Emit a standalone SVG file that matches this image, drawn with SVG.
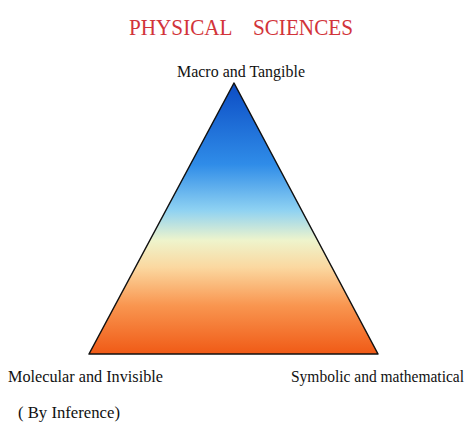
<svg xmlns="http://www.w3.org/2000/svg" width="470" height="425" viewBox="0 0 470 425">
<style>
.t{font-family:"Liberation Serif","Times New Roman",serif;font-size:17.5px;fill:#111}
.title{font-family:"Liberation Serif","Times New Roman",serif;font-size:24px;fill:#d2343a}
</style>
<defs>
<linearGradient id="g" x1="0" y1="83" x2="0" y2="354" gradientUnits="userSpaceOnUse">
<stop offset="0" stop-color="#0c4cc4"/>
<stop offset="0.3" stop-color="#2f8ce8"/>
<stop offset="0.47" stop-color="#8fd2f2"/>
<stop offset="0.58" stop-color="#eef4cc"/>
<stop offset="0.68" stop-color="#fbd8a0"/>
<stop offset="0.82" stop-color="#f99650"/>
<stop offset="1" stop-color="#f05a16"/>
</linearGradient>
</defs>
<rect width="470" height="425" fill="#fff"/>
<g id="title"><text class="title" x="129" y="35" textLength="224" lengthAdjust="spacingAndGlyphs" xml:space="preserve">PHYSICAL    SCIENCES</text></g>
<g id="triangle"><polygon points="234,83 89,354 378,354" fill="url(#g)" stroke="#111" stroke-width="1.5" stroke-linejoin="round"/></g>
<g id="top"><text class="t" x="177" y="77" textLength="128" lengthAdjust="spacingAndGlyphs">Macro and Tangible</text></g>
<g id="left"><text class="t" x="8" y="382" textLength="155" lengthAdjust="spacingAndGlyphs">Molecular and Invisible</text><text class="t" x="18" y="418" textLength="102" lengthAdjust="spacingAndGlyphs">( By Inference)</text></g>
<g id="right"><text class="t" x="291" y="382" style="font-size:16px" textLength="173" lengthAdjust="spacingAndGlyphs">Symbolic and mathematical</text></g>
<g id="connectors"/>
</svg>
